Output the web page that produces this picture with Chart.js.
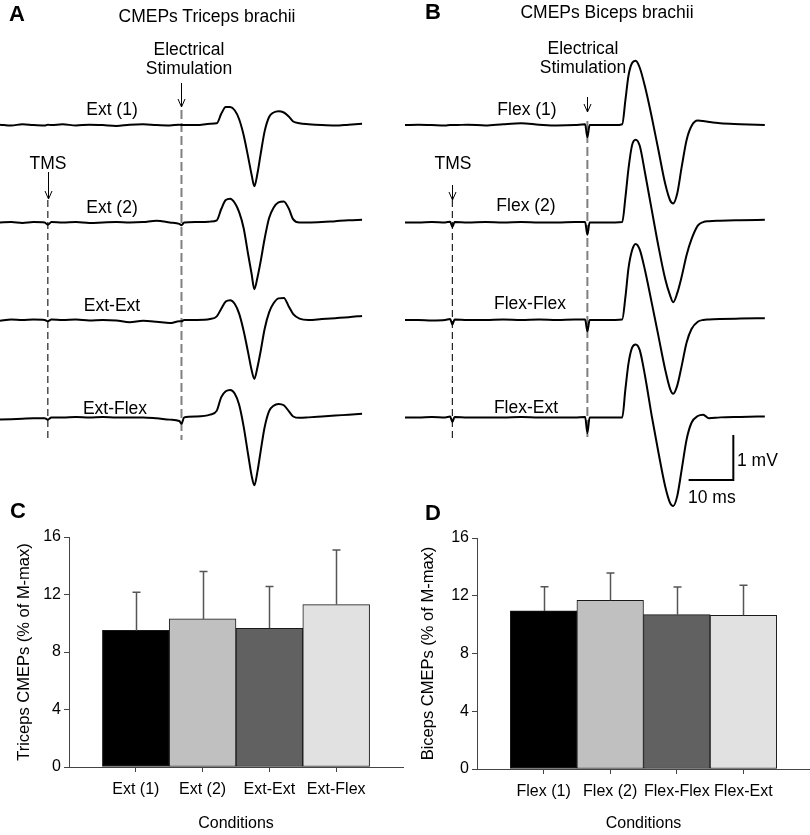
<!DOCTYPE html>
<html>
<head>
<meta charset="utf-8">
<script src="https://cdn.jsdelivr.net/npm/chart.js@4.4.1/dist/chart.umd.min.js"></script>
<style>
  body { margin: 0; background: #fff; }
  #fig { position: relative; width: 810px; height: 835px; font-family: 'Liberation Sans', Arial, sans-serif; color: #000; }
  #fig canvas { position: absolute; }
  .lbl { position: absolute; font-size: 17.5px; line-height: 18px; white-space: nowrap; }
  .ctr { transform: translateX(-50%); text-align: center; }
  .letter { position: absolute; font-size: 22px; line-height: 22px; font-weight: bold; }
</style>
</head>
<body>
<div id="fig">
  <canvas id="chartA" width="400" height="510" style="left:0;top:0"></canvas>
  <canvas id="chartB" width="410" height="510" style="left:400px;top:0"></canvas>
  <canvas id="chartC" width="405" height="325" style="left:0;top:510px"></canvas>
  <canvas id="chartD" width="405" height="325" style="left:405px;top:510px"></canvas>

  <div class="letter" style="left:9px;top:3px">A</div>
  <div class="letter" style="left:425px;top:1px">B</div>
  <div class="letter" style="left:10px;top:500px">C</div>
  <div class="letter" style="left:425px;top:502px">D</div>

  <div class="lbl ctr" style="left:207px;top:6.5px">CMEPs Triceps brachii</div>
  <div class="lbl ctr" style="left:607px;top:3px">CMEPs Biceps brachii</div>

  <div class="lbl ctr" style="left:189px;top:40px;line-height:19px">Electrical<br>Stimulation</div>
  <div class="lbl ctr" style="left:583px;top:38.5px;line-height:19px">Electrical<br>Stimulation</div>
  <div class="lbl ctr" style="left:48px;top:153.5px">TMS</div>
  <div class="lbl ctr" style="left:453px;top:153.5px">TMS</div>

  <div class="lbl ctr" style="left:112px;top:99.5px">Ext (1)</div>
  <div class="lbl ctr" style="left:112px;top:197.5px">Ext (2)</div>
  <div class="lbl ctr" style="left:112px;top:296px">Ext-Ext</div>
  <div class="lbl ctr" style="left:115px;top:399px">Ext-Flex</div>

  <div class="lbl ctr" style="left:527px;top:99.5px">Flex (1)</div>
  <div class="lbl ctr" style="left:526px;top:196px">Flex (2)</div>
  <div class="lbl ctr" style="left:530px;top:294px">Flex-Flex</div>
  <div class="lbl ctr" style="left:526px;top:397.5px">Flex-Ext</div>

  <div class="lbl" style="left:737px;top:451px">1 mV</div>
  <div class="lbl" style="left:688px;top:487.5px">10 ms</div>
</div>

<script>
// ---- traces, panel A (time in ms, amplitude in mV relative to each trace's baseline)
const timeA = [0, 2.5, 5, 7.5, 10, 10.7, 11.5, 14, 17, 20, 23, 26, 29, 32, 35, 38, 40.1, 40.6, 41.2, 44,
  47, 48.5, 49.5, 50.5, 51.5, 52.5, 53.5, 54.5, 55.5, 56.3, 56.9, 57.6, 58.3, 59.2, 60.2, 61.2, 62.3, 63.5,
  64.6, 65.6, 67, 69, 72, 75, 78, 81];
const ext1 = [0.01, -0.01, 0.02, 0.0, -0.01, 0.01, 0.0, 0.02, -0.01, 0.01, 0.0, -0.02, 0.01, 0.02, 0.0,
  -0.01, 0.01, 0.0, 0.0, 0.0, 0.03, 0.04, 0.25, 0.40, 0.40, 0.33, 0.13, -0.22, -0.70, -1.11, -1.36, -1.07,
  -0.65, -0.14, 0.18, 0.28, 0.31, 0.28, 0.19, 0.08, 0.04, 0.02, 0.0, -0.01, 0.01, 0.03];
const ext2 = [0.0, 0.01, -0.01, 0.01, 0.0, -0.05, 0.01, 0.0, 0.01, -0.01, 0.0, 0.01, 0.0, 0.01, 0.04,
  0.0, -0.03, -0.06, 0.0, 0.01, 0.02, 0.05, 0.30, 0.50, 0.53, 0.44, 0.23, -0.12, -0.70, -1.15, -1.48, -1.22,
  -0.87, -0.36, 0.10, 0.33, 0.45, 0.47, 0.31, 0.07, 0.0, 0.0, 0.01, 0.03, 0.05, 0.06];
const extExt = [-0.02, 0.01, 0.0, 0.01, 0.0, -0.03, 0.01, 0.0, 0.01, -0.01, 0.0, -0.01, -0.05, -0.02, -0.04,
  -0.07, -0.03, -0.03, 0.0, 0.0, 0.02, 0.08, 0.25, 0.41, 0.44, 0.36, 0.14, -0.24, -0.72, -1.12, -1.31, -1.05,
  -0.70, -0.20, 0.17, 0.37, 0.48, 0.49, 0.30, 0.13, 0.03, 0.0, 0.02, 0.04, 0.06, 0.09];
const extFlex = [-0.05, -0.04, -0.03, -0.02, -0.02, -0.05, 0.0, 0.0, 0.01, 0.0, 0.01, 0.0, 0.0, 0.0, -0.02,
  -0.05, -0.08, -0.14, 0.0, 0.02, 0.06, 0.15, 0.45, 0.58, 0.61, 0.53, 0.28, -0.20, -0.82, -1.30, -1.51, -1.20,
  -0.76, -0.22, 0.14, 0.26, 0.30, 0.27, 0.14, 0.02, -0.01, 0.0, 0.02, 0.04, 0.06, 0.08];

// ---- traces, panel B
const timeB = [0, 3, 6, 9, 10.1, 10.6, 11.1, 14, 18, 22, 26, 30, 34, 38, 40.3, 40.8, 41.3, 44, 47, 48.6,
  49.3, 50.0, 50.8, 51.6, 52.5, 53.7, 55.2, 56.7, 58.2, 59.3, 60.0, 60.9, 61.9, 63.0, 64.1, 65.5, 66.7, 68,
  70.5, 75, 80.5];
const flex1 = [0, 0.01, 0, -0.01, 0, 0, 0, 0.01, -0.01, 0.02, 0.04, 0.01, -0.01, 0.0, 0.02, -0.27, 0.0, 0.0,
  0.0, 0.02, 0.55, 1.10, 1.38, 1.43, 1.28, 0.85, 0.18, -0.56, -1.30, -1.67, -1.74, -1.52, -0.93, -0.33,
  -0.02, 0.10, 0.09, 0.07, 0.04, 0.02, 0.0];
const flex2 = [0, 0, 0.01, 0, 0.02, -0.10, 0.01, 0, 0.01, 0, 0.01, 0, 0, 0.01, 0.01, -0.27, 0.0, 0, 0, 0.01,
  0.55, 1.20, 1.72, 1.84, 1.71, 1.10, 0.28, -0.53, -1.25, -1.62, -1.77, -1.57, -1.20, -0.72, -0.37, -0.07,
  0.01, 0.03, 0.04, 0.05, 0.06];
const flexFlex = [0, 0, -0.01, 0, 0.02, -0.10, 0.01, 0, 0, 0.01, 0, 0.01, 0, 0.01, 0.01, -0.25, 0, 0, 0,
  0.01, 0.50, 1.15, 1.55, 1.69, 1.57, 1.10, 0.38, -0.36, -1.10, -1.53, -1.64, -1.46, -1.02, -0.50, -0.20,
  -0.04, 0.0, 0.01, 0.02, 0.03, 0.04];
const flexExt = [0, 0, 0.01, 0, 0.02, -0.10, 0.01, 0, 0, 0, 0.01, 0, 0, 0, 0.01, -0.35, 0, 0, 0, 0,
  0.62, 1.20, 1.55, 1.62, 1.50, 0.92, 0.03, -0.78, -1.53, -1.90, -1.97, -1.75, -1.16, -0.49, -0.12, 0.03,
  0.06, -0.02, 0.0, 0.01, 0.02];

// stimulus times (ms)
const tmsTimeA = 10.7, esTimeA = 40.6;
const tmsTimeB = 10.6, esTimeB = 40.8;
const scaleBarMs = 10, scaleBarMv = 1;

// ---- bar panels (% of M-max)
const tricepsLabels = ['Ext (1)', 'Ext (2)', 'Ext-Ext', 'Ext-Flex'];
const tricepsMeans = [9.5, 10.3, 9.65, 11.3];
const tricepsSD = [2.65, 3.3, 2.9, 3.8];
const bicepsLabels = ['Flex (1)', 'Flex (2)', 'Flex-Flex', 'Flex-Ext'];
const bicepsMeans = [10.95, 11.68, 10.69, 10.65];
const bicepsSD = [1.68, 1.9, 1.92, 2.07];
const yTicks = [0, 4, 8, 12, 16];

const barColors = ['#000000', '#c0c0c0', '#616161', '#e1e1e1'];
const FONT = "'Liberation Sans', Arial, sans-serif";

// ----------------------------------------------------------------------------
// trace panels
const PX_PER_MS = 4.47, PX_PER_MV = 45;
const rowOffset = i => -2.78 - i * 2.165;

const stimArrows = {
    id: 'stimArrows',
    afterDatasetsDraw(chart, args, opts) {
        const {ctx, scales: {x, y}} = chart;
        ctx.save();
        ctx.strokeStyle = '#000';
        ctx.lineWidth = 1;
        (opts.items || []).forEach(a => {
            const px = Math.round(x.getPixelForValue(a.t)) + 0.5;
            const y1 = y.getPixelForValue(a.from);
            const y2 = y.getPixelForValue(a.to);
            ctx.beginPath();
            ctx.moveTo(px, y1);
            ctx.lineTo(px, y2);
            ctx.moveTo(px - 3.5, y2 - 8);
            ctx.lineTo(px, y2);
            ctx.lineTo(px + 3.5, y2 - 8);
            ctx.stroke();
        });
        ctx.restore();
    }
};

function traceSets(times, rows) {
    return rows.map((vals, i) => ({
        data: times.map((t, k) => ({x: t, y: vals[k] + rowOffset(i)})),
        borderColor: '#000',
        borderWidth: 2,
        pointRadius: 0,
        cubicInterpolationMode: 'monotone',
        order: 1
    }));
}

function markerLine(t, top, bottom, color, width, dash) {
    return {
        data: [{x: t, y: top}, {x: t, y: bottom}],
        borderColor: color,
        borderWidth: width,
        borderDash: dash,
        pointRadius: 0,
        order: 2
    };
}

// mV position from pixel row inside a trace canvas
const mv = px => -px / PX_PER_MV;

function traceChart(id, canvasW, xMin, datasets, arrows) {
    return new Chart(document.getElementById(id), {
        type: 'line',
        data: {datasets: datasets},
        options: {
            responsive: false,
            animation: false,
            events: [],
            layout: {padding: 0},
            plugins: {
                legend: {display: false},
                tooltip: {enabled: false},
                stimArrows: {items: arrows}
            },
            scales: {
                x: {type: 'linear', display: false, min: xMin, max: xMin + canvasW / PX_PER_MS},
                y: {type: 'linear', display: false, min: -510 / PX_PER_MV, max: 0}
            }
        },
        plugins: [stimArrows]
    });
}

const dsA = traceSets(timeA, [ext1, ext2, extExt, extFlex]);
dsA.push(markerLine(tmsTimeA, mv(200), mv(440), '#222', 1.2, [7, 4]));
dsA.push(markerLine(esTimeA, mv(110), mv(440), '#808080', 2, [9, 4]));
traceChart('chartA', 400, 0, dsA, [
    {t: tmsTimeA, from: mv(172), to: mv(199)},
    {t: esTimeA, from: mv(83), to: mv(107)}
]);

const xMinB = -5 / PX_PER_MS;
const dsB = traceSets(timeB, [flex1, flex2, flexFlex, flexExt]);
dsB.push(markerLine(tmsTimeB, mv(200), mv(440), '#222', 1.2, [7, 4]));
dsB.push(markerLine(esTimeB, mv(121), mv(437), '#808080', 2, [9, 4]));
// 10 ms / 1 mV calibration bar
const barT = 73.45, barV = mv(480);
dsB.push({
    data: [{x: barT - scaleBarMs, y: barV}, {x: barT, y: barV}, {x: barT, y: barV + scaleBarMv}],
    borderColor: '#000', borderWidth: 2, pointRadius: 0, order: 1
});
traceChart('chartB', 410, xMinB, dsB, [
    {t: tmsTimeB, from: mv(185), to: mv(200)},
    {t: esTimeB, from: mv(97), to: mv(112)}
]);

// ----------------------------------------------------------------------------
// bar panels
const errorBars = {
    id: 'errorBars',
    afterDatasetsDraw(chart, args, opts) {
        const {ctx, scales: {y}} = chart;
        const meta = chart.getDatasetMeta(0);
        ctx.save();
        ctx.strokeStyle = '#555';
        ctx.lineWidth = 1.5;
        meta.data.forEach((bar, i) => {
            const top = y.getPixelForValue(opts.means[i] + opts.sd[i]);
            const x = Math.round(bar.x) + 0.5;
            ctx.beginPath();
            ctx.moveTo(x, bar.y);
            ctx.lineTo(x, top);
            ctx.moveTo(x - 4, top);
            ctx.lineTo(x + 4, top);
            ctx.stroke();
        });
        ctx.restore();
    }
};

function barChart(id, labels, means, sd, yTitle, geom) {
    const font = {family: FONT, size: 16};
    return new Chart(document.getElementById(id), {
        type: 'bar',
        data: {
            datasets: [{
                data: means.map((m, i) => ({x: i + 1, y: m})),
                backgroundColor: barColors,
                borderColor: '#1a1a1a',
                borderWidth: 1,
                borderSkipped: false,
                barPercentage: 1,
                categoryPercentage: 1
            }]
        },
        options: {
            responsive: false,
            animation: false,
            events: [],
            layout: {padding: {top: geom.top, right: geom.right, left: 0, bottom: 0}},
            plugins: {
                legend: {display: false},
                tooltip: {enabled: false},
                errorBars: {means: means, sd: sd}
            },
            scales: {
                x: {
                    type: 'linear',
                    offset: false,
                    min: 0,
                    max: labels.length + 1,
                    afterBuildTicks: s => { s.ticks = labels.map((l, i) => ({value: i + 1})); },
                    afterFit: s => { s.height = geom.xHeight; },
                    ticks: {
                        autoSkip: false, maxRotation: 0, padding: 8, color: '#000', font: font,
                        callback: v => labels[v - 1]
                    },
                    grid: {offset: false, drawOnChartArea: false, tickLength: 5, color: '#444'},
                    border: {color: '#444', width: 1},
                    title: {display: true, text: 'Conditions', color: '#000', font: font, padding: {top: 0, bottom: 2}}
                },
                y: {
                    min: 0,
                    max: 16,
                    afterBuildTicks: s => { s.ticks = yTicks.map(v => ({value: v})); },
                    afterFit: s => { s.width = geom.yWidth; },
                    ticks: {padding: 3, color: '#000', font: font},
                    grid: {drawOnChartArea: false, tickLength: 5, color: '#444'},
                    border: {color: '#444', width: 1},
                    title: {display: true, text: yTitle, color: '#000', font: {family: FONT, size: 16.5},
                        padding: {top: geom.titlePad, bottom: 0}}
                }
            }
        },
        plugins: [errorBars]
    });
}

barChart('chartC', tricepsLabels, tricepsMeans, tricepsSD, 'Triceps CMEPs (% of M-max)',
    {top: 27, right: 2, xHeight: 68, yWidth: 69, titlePad: 15});
barChart('chartD', bicepsLabels, bicepsMeans, bicepsSD, 'Biceps CMEPs (% of M-max)',
    {top: 28, right: 0, xHeight: 66, yWidth: 72, titlePad: 14});
</script>
</body>
</html>
